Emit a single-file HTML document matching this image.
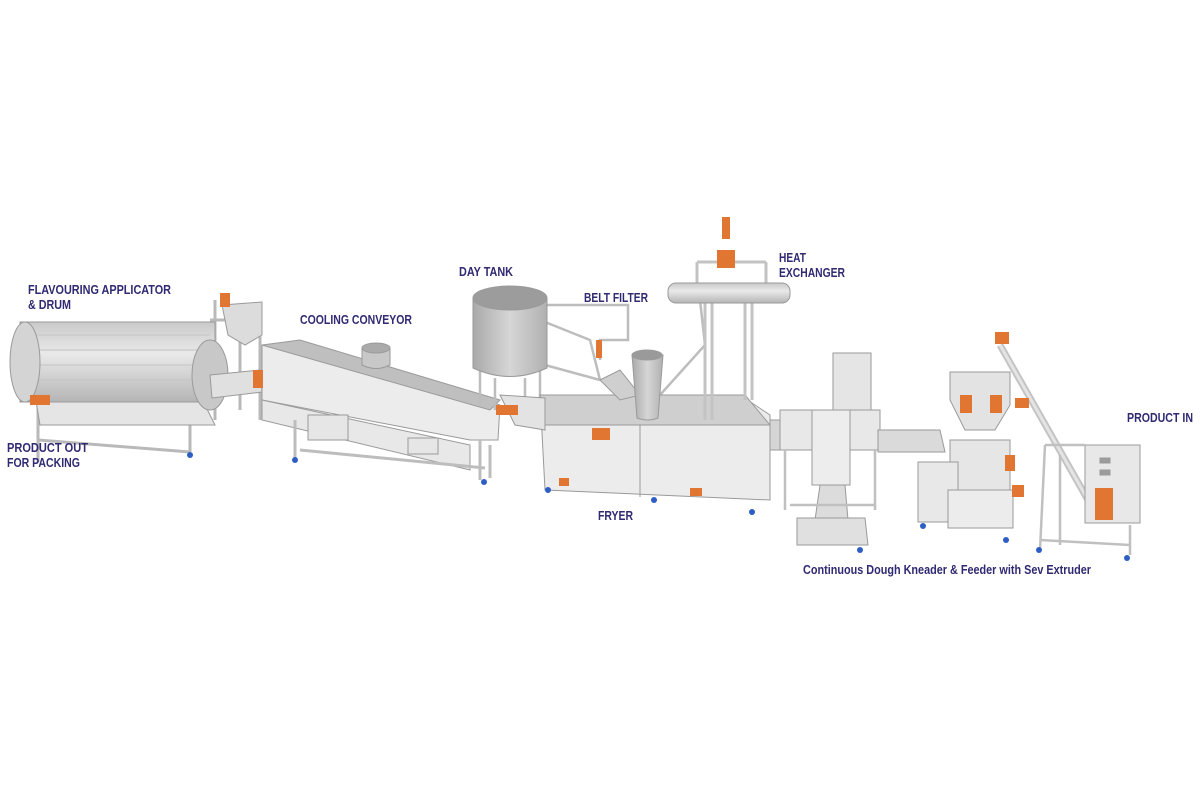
<!DOCTYPE html>
<html><head><meta charset="utf-8"><style>
html,body{margin:0;padding:0;background:#fff;width:1200px;height:800px;overflow:hidden}
svg{display:block}
text{font-family:"Liberation Sans",sans-serif;font-weight:bold;fill:#2f2a72;font-size:13px}
</style></head><body>
<svg width="1200" height="800" viewBox="0 0 1200 800" xmlns="http://www.w3.org/2000/svg">
<defs>
<linearGradient id="cyl" x1="0" y1="0" x2="0" y2="1"><stop offset="0" stop-color="#c9c9c9"/><stop offset=".4" stop-color="#e9e9e9"/><stop offset="1" stop-color="#b5b5b5"/></linearGradient>
<linearGradient id="tank" x1="0" y1="0" x2="1" y2="0"><stop offset="0" stop-color="#a9a9a9"/><stop offset=".5" stop-color="#d6d6d6"/><stop offset="1" stop-color="#b0b0b0"/></linearGradient>
</defs>
<g stroke="#9a9a9a" stroke-width="1" fill="#e2e2e2">
<g fill="none" stroke="#b9b9b9" stroke-width="3">
<path d="M38 400 L38 462 M190 410 L190 452 M38 440 L190 452 M180 330 L180 420 M210 320 L260 320 L260 420 M215 300 L215 420 M240 320 L240 410"/>
</g>
<polygon points="35,395 200,395 215,425 40,425" fill="#e5e5e5"/>
<rect x="20" y="322" width="195" height="80" fill="url(#cyl)"/>
<g stroke="#c4c4c4"><line x1="25" y1="335" x2="210" y2="335"/><line x1="25" y1="350" x2="210" y2="350"/><line x1="25" y1="365" x2="210" y2="365"/><line x1="25" y1="380" x2="210" y2="380"/></g>
<ellipse cx="25" cy="362" rx="15" ry="40" fill="#d4d4d4"/>
<ellipse cx="210" cy="375" rx="18" ry="35" fill="#c8c8c8"/>
<polygon points="210,375 260,370 262,392 212,398" fill="#e0e0e0"/>
<polygon points="222,305 262,302 262,335 245,345 228,335" fill="#dcdcdc"/>
<polygon points="262,345 300,345 500,405 498,440 470,440 262,400" fill="#ececec"/>
<polygon points="262,345 300,340 500,400 490,410" fill="#bfbfbf"/>
<polygon points="262,400 470,445 470,470 262,420" fill="#e8e8e8"/>
<rect x="308" y="415" width="40" height="25" fill="#e6e6e6"/><rect x="408" y="438" width="30" height="16" fill="#e6e6e6"/>
<g fill="none" stroke="#bdbdbd" stroke-width="3"><path d="M295 420 L295 458 M490 445 L490 478 M480 440 L480 480 M300 450 L485 468"/></g>
<path d="M362 348 L362 365 Q376 372 390 365 L390 348 Z" fill="#c8c8c8"/><ellipse cx="376" cy="348" rx="14" ry="5" fill="#aaa"/>
<g fill="none" stroke="#bdbdbd" stroke-width="2.5"><path d="M480 370 L480 405 M540 370 L540 405 M495 378 L495 410 M525 378 L525 405"/>
<path d="M545 305 L628 305 L628 340 L600 340 L600 360 M535 318 L590 340 L600 380 M545 365 L600 380 M700 300 L705 345 L660 395"/>
</g>
<path d="M473 298 L473 368 Q510 385 547 368 L547 298 Z" fill="url(#tank)"/>
<ellipse cx="510" cy="298" rx="37" ry="12" fill="#9c9c9c"/>
<polygon points="540,395 740,395 770,415 770,500 545,490" fill="#ececec"/>
<polygon points="540,395 745,395 770,425 545,425" fill="#cfcfcf"/>
<line x1="640" y1="425" x2="640" y2="497"/><line x1="545" y1="425" x2="770" y2="425"/>
<polygon points="600,380 620,370 640,395 620,400" fill="#cfcfcf"/>
<path d="M632 355 L637 418 Q648 422 658 418 L663 355 Z" fill="url(#tank)"/><ellipse cx="647" cy="355" rx="15" ry="5" fill="#9a9a9a"/>
<polygon points="770,420 800,420 805,450 770,450" fill="#d5d5d5"/>
<polygon points="500,395 545,398 545,430 515,425" fill="#e3e3e3"/>
<g fill="none" stroke="#c3c3c3" stroke-width="3"><path d="M705 300 L705 420 M712 300 L712 420 M745 300 L745 400 M752 300 L752 400 M697 262 L697 285 M766 262 L766 285 M697 262 L766 262"/></g>
<rect x="668" y="283" width="122" height="20" rx="8" fill="url(#cyl)"/>
<rect x="833" y="353" width="38" height="60" fill="#e5e5e5"/>
<polygon points="780,410 880,410 880,450 780,450" fill="#e8e8e8"/>
<rect x="812" y="410" width="38" height="75" fill="#ededed"/>
<polygon points="820,485 845,485 848,520 815,520" fill="#dcdcdc"/>
<polygon points="797,518 865,518 868,545 797,545" fill="#e0e0e0"/>
<g fill="none" stroke="#c0c0c0" stroke-width="2.5"><path d="M785 450 L785 510 M875 450 L875 510 M790 505 L875 505"/></g>
<polygon points="878,430 940,430 945,452 878,452" fill="#dadada"/>
<polygon points="950,372 1010,372 1010,405 995,430 965,430 950,400" fill="#e3e3e3"/>
<rect x="950" y="440" width="60" height="50" fill="#e6e6e6"/>
<rect x="918" y="462" width="40" height="60" fill="#e8e8e8"/>
<rect x="948" y="490" width="65" height="38" fill="#ececec"/>
<path d="M1000 345 L1088 500" stroke="#c4c4c4" stroke-width="7" fill="none"/>
<path d="M1000 345 L1088 500" stroke="#e4e4e4" stroke-width="3" fill="none"/>
<rect x="1085" y="445" width="55" height="78" fill="#e8e8e8"/>
<rect x="1100" y="458" width="10" height="5" fill="#9c9c9c"/><rect x="1100" y="470" width="10" height="5" fill="#9c9c9c"/>
<g fill="none" stroke="#c0c0c0" stroke-width="2.5"><path d="M1045 445 L1085 445 M1045 445 L1040 550 M1130 525 L1130 555 M1040 540 L1130 545 M1060 455 L1060 545"/></g>
</g>
<g fill="#e17632">
<rect x="220" y="293" width="10" height="14"/><rect x="253" y="370" width="10" height="18"/><rect x="30" y="395" width="20" height="10"/>
<rect x="496" y="405" width="22" height="10"/><rect x="592" y="428" width="18" height="12"/>
<rect x="559" y="478" width="10" height="8"/><rect x="690" y="488" width="12" height="8"/>
<rect x="722" y="217" width="8" height="22"/><rect x="717" y="250" width="18" height="18"/>
<rect x="596" y="340" width="6" height="18"/>
<rect x="995" y="332" width="14" height="12"/><rect x="960" y="395" width="12" height="18"/><rect x="990" y="395" width="12" height="18"/>
<rect x="1015" y="398" width="14" height="10"/><rect x="1005" y="455" width="10" height="16"/><rect x="1012" y="485" width="12" height="12"/>
<rect x="1095" y="488" width="18" height="32"/>
</g>
<g fill="#2e5ec4">
<circle cx="190" cy="455" r="3"/><circle cx="295" cy="460" r="3"/><circle cx="484" cy="482" r="3"/><circle cx="548" cy="490" r="3"/><circle cx="654" cy="500" r="3"/><circle cx="752" cy="512" r="3"/><circle cx="860" cy="550" r="3"/><circle cx="923" cy="526" r="3"/><circle cx="1006" cy="540" r="3"/><circle cx="1127" cy="558" r="3"/><circle cx="1039" cy="550" r="3"/>
</g>
<text x="28" y="294" textLength="143" lengthAdjust="spacingAndGlyphs">FLAVOURING APPLICATOR</text>
<text x="28" y="309" textLength="43" lengthAdjust="spacingAndGlyphs">&amp; DRUM</text>
<text x="7" y="452" textLength="81" lengthAdjust="spacingAndGlyphs">PRODUCT OUT</text>
<text x="7" y="467" textLength="73" lengthAdjust="spacingAndGlyphs">FOR PACKING</text>
<text x="300" y="324" textLength="112" lengthAdjust="spacingAndGlyphs">COOLING CONVEYOR</text>
<text x="459" y="276" textLength="54" lengthAdjust="spacingAndGlyphs">DAY TANK</text>
<text x="584" y="302" textLength="64" lengthAdjust="spacingAndGlyphs">BELT FILTER</text>
<text x="779" y="262" textLength="27" lengthAdjust="spacingAndGlyphs">HEAT</text>
<text x="779" y="277" textLength="66" lengthAdjust="spacingAndGlyphs">EXCHANGER</text>
<text x="598" y="520" textLength="35" lengthAdjust="spacingAndGlyphs">FRYER</text>
<text x="803" y="574" textLength="288" lengthAdjust="spacingAndGlyphs">Continuous Dough Kneader &amp; Feeder with Sev Extruder</text>
<text x="1127" y="422" textLength="66" lengthAdjust="spacingAndGlyphs">PRODUCT IN</text>
</svg>
</body></html>
